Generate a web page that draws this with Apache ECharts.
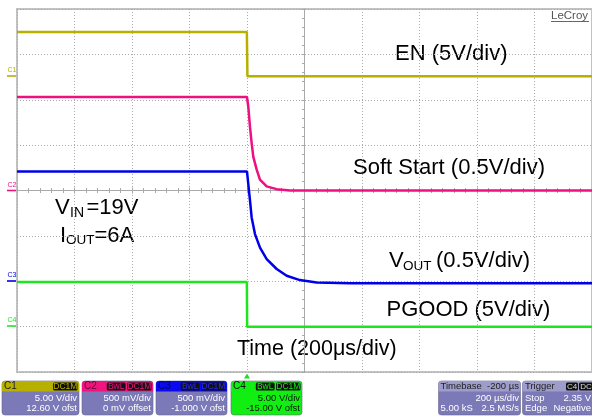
<!DOCTYPE html>
<html><head><meta charset="utf-8">
<script src="https://cdn.jsdelivr.net/npm/echarts@6/dist/echarts.min.js"></script>
<style>html,body{margin:0;padding:0;background:#fff}#c{width:592px;height:416px}</style>
</head><body><div id="c"></div>
<script>
// ---- data (time in microseconds relative to trigger, values in volts) ----
const enTime   = [-800, -0.5, 1.5, 1200];
const enVolts  = [4.86, 4.86, 0.0, 0.0];
const ssTime   = [-800, 0, 4.6, 10.4, 16.3, 22, 33.7, 45, 68.4, 103, 150, 1200];
const ssVolts  = [1.03, 1.03, 0.92, 0.70, 0.52, 0.37, 0.23, 0.12, 0.045, 0.015, 0.0, 0.0];
const voutTime = [-800, 0, 4.5, 10.4, 16.3, 27.8, 45.2, 68.5, 103.3, 138, 184, 242, 358, 1200];
const voutVolts= [1.21, 1.21, 1.07, 0.89, 0.70, 0.52, 0.37, 0.245, 0.135, 0.06, 0.013, -0.013, -0.022, -0.022];
const pgTime   = [-800, -0.5, 0.5, 1200];
const pgVolts  = [4.92, 4.92, 0.0, 0.0];
// channel scale settings
const chNames     = ['C1', 'C2', 'C3', 'C4'];
const voltsPerDiv = [5, 0.5, 0.5, 5];
const offsetVolts = [12.6, 0, -1.0, -15];
const timeMin = -800, timeMax = 1200, timePerDiv = 200;
const chColors = ['#b7b000', '#ee1080', '#0000e8', '#1ee61e'];

const FONT = '"Liberation Sans", Arial, sans-serif';
const chart = echarts.init(document.getElementById('c'));

function pairs(t, v) { return t.map((x, i) => [x, v[i]]); }

const chAxes = voltsPerDiv.map((vd, i) => ({
  type: 'value', show: false,
  min: -offsetVolts[i] - 4 * vd, max: -offsetVolts[i] + 4 * vd
}));

const gridLine = { show: true, lineStyle: { color: '#aaaaaa', type: [1, 2], width: 1 } };
const centerLine = { color: '#a9a9a9', width: 1 };

function txt(x, y, text, size, color, align, extra) {
  return Object.assign({
    type: 'text', x: x, y: y, silent: true,
    style: { text: text, fill: color || '#000', font: size + 'px ' + FONT,
             align: align || 'left', verticalAlign: 'middle' }
  }, extra || {});
}

const graphics = [];
// big annotation labels
graphics.push(txt(395, 54, 'EN (5V/div)', 22));
graphics.push(txt(353, 167.5, 'Soft Start (0.5V/div)', 22));
graphics.push(txt(55, 208, 'V', 22));
graphics.push(txt(70, 213, 'IN', 14));
graphics.push(txt(86.5, 208, '=19V', 22));
graphics.push(txt(60, 236, 'I', 22));
graphics.push(txt(66, 240, 'OUT', 13.5));
graphics.push(txt(94.5, 236, '=6A', 22));
graphics.push(txt(389, 261, 'V', 22));
graphics.push(txt(403, 266, 'OUT', 13.5));
graphics.push(txt(436, 261, '(0.5V/div)', 22));
graphics.push(txt(386.5, 310, 'PGOOD (5V/div)', 22));
graphics.push(txt(237, 349.5, 'Time (200μs/div)', 21.5));
// LeCroy logo
graphics.push(txt(551, 15.5, 'LeCroy', 11.5, '#555'));
graphics.push({ type: 'line', silent: true, shape: { x1: 551, y1: 21.5, x2: 589, y2: 21.5 }, style: { stroke: '#666', lineWidth: 1 } });

// channel ground markers on the left
const markerY = [76, 190.5, 281, 326];
chNames.forEach((n, i) => {
  graphics.push(txt(7.5, markerY[i] - 5.5, n, 7, chColors[i]));
  graphics.push({ type: 'line', silent: true, shape: { x1: 7, y1: markerY[i], x2: 16, y2: markerY[i] }, style: { stroke: chColors[i], lineWidth: 1.6 } });
});

// trigger marker
graphics.push({ type: 'polygon', silent: true, shape: { points: [[244, 378.5], [250, 378.5], [247, 373.5]] }, style: { fill: '#22dd22' } });

// channel info boxes
const BODY = '#7b79b8';
function chBox(x, w, hdr, label, labelColor, tags, tagColor, lines, lineColor, body) {
  const y = 381, h = 34;
  graphics.push({ type: 'rect', silent: true, shape: { x: x, y: y, width: w, height: h, r: 3 }, style: { fill: body || BODY, stroke: '#6a6a8a', lineWidth: 0.6 } });
  graphics.push({ type: 'rect', silent: true, shape: { x: x, y: y, width: w, height: 10.5, r: [3, 3, 0, 0] }, style: { fill: hdr } });
  graphics.push(txt(x + 2, y + 5.5, label, 10, labelColor));
  let rx = x + w - 1.5;
  for (let k = tags.length - 1; k >= 0; k--) {
    const tw = tags[k].length * 5.6 + 2;
    graphics.push({ type: 'rect', silent: true, shape: { x: rx - tw, y: y + 1.5, width: tw, height: 8, r: 1.5 }, style: { fill: '#111' } });
    graphics.push(txt(rx - tw / 2, y + 5.7, tags[k], 8.5, tagColor, 'center'));
    rx -= tw + 1.5;
  }
  graphics.push(txt(x + w - 2, y + 17, lines[0], 9.5, lineColor, 'right'));
  graphics.push(txt(x + w - 2, y + 27, lines[1], 9.5, lineColor, 'right'));
}
chBox(2, 77, chColors[0], 'C1', '#222', ['DC1M'], chColors[0], ['5.00 V/div', '12.60 V ofst'], '#fff');
chBox(82, 71, '#f0147f', 'C2', '#6a0033', ['BwL', 'DC1M'], '#f0147f', ['500 mV/div', '0 mV offset'], '#fff');
chBox(156, 71, '#0a0af0', 'C3', '#00006a', ['BwL', 'DC1M'], '#2a2af8', ['500 mV/div', '-1.000 V ofst'], '#fff');
chBox(231, 71, '#11ee11', 'C4', '#111', ['BwL', 'DC1M'], '#11ee11', ['5.00 V/div', '-15.00 V ofst'], '#111', '#11ee11');

// timebase box
graphics.push({ type: 'rect', silent: true, shape: { x: 438.5, y: 381, width: 82, height: 34, r: 3 }, style: { fill: BODY, stroke: '#6a6a8a', lineWidth: 0.6 } });
graphics.push({ type: 'rect', silent: true, shape: { x: 438.5, y: 381, width: 82, height: 10.5, r: [3, 3, 0, 0] }, style: { fill: '#9e9cca' } });
graphics.push(txt(440.5, 386.5, 'Timebase', 9.5, '#222'));
graphics.push(txt(519, 386.5, '-200 µs', 9.5, '#222', 'right'));
graphics.push(txt(519, 398, '200 µs/div', 9.5, '#fff', 'right'));
graphics.push(txt(440.5, 408, '5.00 kS', 9.5, '#fff'));
graphics.push(txt(519, 408, '2.5 MS/s', 9.5, '#fff', 'right'));
// trigger box
graphics.push({ type: 'rect', silent: true, shape: { x: 522.5, y: 381, width: 72, height: 34, r: 3 }, style: { fill: BODY, stroke: '#6a6a8a', lineWidth: 0.6 } });
graphics.push({ type: 'rect', silent: true, shape: { x: 522.5, y: 381, width: 72, height: 10.5, r: [3, 3, 0, 0] }, style: { fill: '#9e9cca' } });
graphics.push(txt(525, 386.5, 'Trigger', 9.5, '#222'));
graphics.push({ type: 'rect', silent: true, shape: { x: 566, y: 382.5, width: 12, height: 8, r: 1.5 }, style: { fill: '#111' } });
graphics.push(txt(572, 386.7, 'C4', 8, '#ddd', 'center'));
graphics.push({ type: 'rect', silent: true, shape: { x: 579, y: 382.5, width: 14, height: 8, r: 1.5 }, style: { fill: '#111' } });
graphics.push(txt(586, 386.7, 'DC', 8, '#ddd', 'center'));
graphics.push(txt(525, 398, 'Stop', 9.5, '#fff'));
graphics.push(txt(591, 398, '2.35 V', 9.5, '#fff', 'right'));
graphics.push(txt(525, 408, 'Edge', 9.5, '#fff'));
graphics.push(txt(591, 408, 'Negative', 9.5, '#fff', 'right'));

const seriesDefs = [
  { name: 'EN', t: enTime, v: enVolts, ch: 0 },
  { name: 'Soft Start', t: ssTime, v: ssVolts, ch: 1 },
  { name: 'VOUT', t: voutTime, v: voutVolts, ch: 2 },
  { name: 'PGOOD', t: pgTime, v: pgVolts, ch: 3 }
];

chart.setOption({
  animation: false,
  backgroundColor: '#fff',
  grid: { left: 17, top: 9, right: 0, bottom: 44, show: true, borderColor: '#c2c2c2', borderWidth: 2, containLabel: false },
  xAxis: [
    { type: 'value', min: timeMin, max: timeMax, interval: timePerDiv, axisLabel: { show: false }, axisTick: { show: false }, axisLine: { show: false }, splitLine: gridLine },
    { type: 'value', min: -5, max: 5, interval: 1, axisLabel: { show: false }, splitLine: { show: false },
      axisLine: { show: true, onZero: true, onZeroAxisIndex: 0, lineStyle: centerLine },
      axisTick: { show: true, length: 3, inside: false, lineStyle: centerLine },
      minorTick: { show: true, splitNumber: 5, length: 2.5, lineStyle: centerLine } },
    { type: 'value', min: -5, max: 5, interval: 1, axisLabel: { show: false }, splitLine: { show: false },
      axisLine: { show: false, onZero: true, onZeroAxisIndex: 0 },
      axisTick: { show: true, length: 3, inside: true, lineStyle: centerLine },
      minorTick: { show: true, splitNumber: 5, length: 2.5, lineStyle: centerLine } }
  ],
  yAxis: [
    { type: 'value', min: -4, max: 4, interval: 1, axisLabel: { show: false }, splitLine: gridLine,
      axisLine: { show: true, onZero: true, onZeroAxisIndex: 1, lineStyle: centerLine },
      axisTick: { show: true, length: 3, inside: false, lineStyle: centerLine },
      minorTick: { show: true, splitNumber: 5, length: 2.5, lineStyle: centerLine } },
    { type: 'value', min: -4, max: 4, interval: 1, axisLabel: { show: false }, splitLine: { show: false },
      axisLine: { show: false, onZero: true, onZeroAxisIndex: 1 },
      axisTick: { show: true, length: 3, inside: true, lineStyle: centerLine },
      minorTick: { show: true, splitNumber: 5, length: 2.5, lineStyle: centerLine } }
  ].concat(chAxes),
  series: seriesDefs.map(s => ({
    name: s.name, type: 'line', xAxisIndex: 0, yAxisIndex: 2 + s.ch,
    data: pairs(s.t, s.v), showSymbol: false, symbol: 'none', clip: true,
    lineStyle: { color: chColors[s.ch], width: 2.5 }, z: 3
  })),
  graphic: graphics
});
</script></body></html>
